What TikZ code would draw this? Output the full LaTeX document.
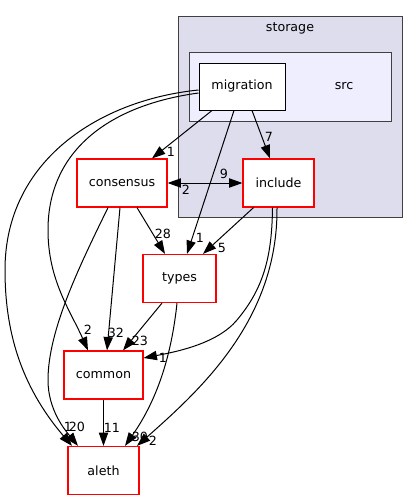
\documentclass[tikz,border=0pt]{standalone}
\usepackage{fontspec}
\setmainfont{DejaVu Sans}
\usepackage{xcolor}
\usetikzlibrary{arrows.meta, calc}

\definecolor{clusterfill}{HTML}{DDDDEE}
\definecolor{srcfill}{HTML}{EEEEFF}
\definecolor{clusterline}{HTML}{404040}
\definecolor{dirred}{HTML}{FF0000}

\begin{document}
\begin{tikzpicture}[x=0.75pt, y=-0.75pt,
		font=\fontsize{9.5pt}{11pt}\selectfont,
		dirbox/.style={draw=dirred, fill=white, line width=0.9pt, minimum height=36pt, inner sep=0pt},
		dep/.style={-{Triangle[length=10pt,width=7pt]}, line width=0.75pt},
		lbl/.style={inner sep=0pt}]
	\useasboundingbox (0,0) rectangle (419,500);
	% clusters
	\draw[clusterline, fill=clusterfill, line width=0.75pt] (178,16) rectangle (402,217);
	\node[lbl] (storage) at (290,28) {storage};
	\draw[clusterline, fill=srcfill, line width=0.75pt] (189,52) rectangle (391,121);
	\node[lbl] (src) at (344,86) {src};
	\node[draw=black, fill=white, line width=0.75pt, minimum width=64.5pt, minimum height=35.25pt, inner sep=0pt] (migration) at (242,86.5) {migration};
	\node[dirbox, minimum width=67.5pt] (consensus) at (122,183) {consensus};
	\foreach \name/\x/\y/\w in {include/278.5/183/71, types/179.5/278.5/73, common/103.5/375/79, aleth/103.5/470.5/71}
	{
		\node[dirbox, minimum width=\w*0.75pt] (\name) at (\x,\y) {\name};
	}
	% straight edges
	\draw[dep] ($(migration.south)+(-30,0)$) -- ($(consensus.north)+(30,0)$) node[lbl] at (171,152) {1};
	\draw[dep] ($(migration.south)+(10,0)$) -- ($(include.north)+(-8.5,0)$) node[lbl] at (269,137) {7};
	\draw[dep] ($(migration.south)+(-8,0)$) -- ($(types.north)+(7.5,0)$) node[lbl] at (200,238) {1};
	\draw[{Triangle[length=10pt,width=7pt]}-{Triangle[length=10pt,width=7pt]}, line width=0.75pt] (consensus.east) -- (include.west)
		node[lbl] at (224,174) {9} node[lbl] at (186,190) {2};
	\draw[dep] ($(consensus.south)+(15,0)$) -- ($(types.north)+(-14.5,0)$) node[lbl] at (163,234) {28};
	\draw[dep] ($(consensus.south)+(-2,0)$) -- ($(common.north)+(3.5,0)$) node[lbl] at (116,333) {32};
	\draw[dep] ($(include.south)+(-25,0)$) -- ($(types.north)+(23.5,0)$) node[lbl] at (222,248) {5};
	\draw[dep] ($(types.south)+(-17.5,0)$) -- ($(common.north)+(19.5,0)$) node[lbl] at (140,341) {23};
	\draw[dep] (common.south) -- (aleth.north) node[lbl] at (112,428) {11};
	% curved edges
	\draw[dep] ($(migration.west)+(0,3.5)$) .. controls (100,100) and (5,160) .. (5,270)
		.. controls (5,330) and (20,385) .. ($(aleth.north)+(-31.5,0)$) node[lbl] at (68,427) {1};
	\draw[dep] ($(migration.west)+(0,6.5)$) .. controls (110,105) and (48,150) .. (48,230)
		.. controls (48,280) and (70,310) .. ($(common.north)+(-15.5,0)$) node[lbl] at (88,330) {2};
	\draw[dep] ($(consensus.south)+(-14,0)$) .. controls (80,265) and (48,330) .. (48,380)
		.. controls (48,410) and (65,430) .. ($(aleth.north)+(-25.5,0)$) node[lbl] at (77,427) {20};
	\draw[dep] ($(include.south)+(-6,0)$) .. controls (272,260) and (262,290) .. (237,320)
		.. controls (217,344) and (175,352) .. ($(common.east)+(0,-17)$) node[lbl] at (163,358) {1};
	\draw[dep] ($(include.south)+(-1.5,0)$) .. controls (278,320) and (200,390) .. ($(aleth.north)+(33.5,0)$) node[lbl] at (153,441) {2};
	\draw[dep] ($(types.south)+(-2.5,0)$) .. controls (170,370) and (150,410) .. ($(aleth.north)+(21.5,0)$) node[lbl] at (140,437) {30};
\end{tikzpicture}
\end{document}
